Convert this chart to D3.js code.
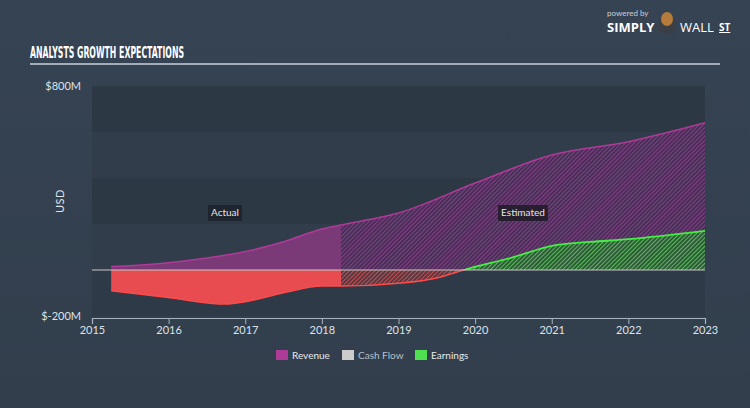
<!DOCTYPE html>
<html><head><meta charset="utf-8">
<script src="https://cdn.jsdelivr.net/npm/d3@7"></script>
<style>
html,body{margin:0;padding:0;background:#344150;}
svg{display:block;}
</style></head>
<body>
<script>
// ---- data ----
const yTicks = [-200, 800];
const yTickLabels = ["$-200M", "$800M"];
const xYears = [2015, 2016, 2017, 2018, 2019, 2020, 2021, 2022, 2023];
const actualEnd = 2018.25;

const revenueDates = [2015.25, 2016, 2016.5, 2017, 2017.5, 2018, 2018.25, 2019, 2020, 2021, 2022, 2023];
const revenue      = [15, 32, 52, 80, 123, 178, 196, 248, 378, 500, 558, 640];

const earningsDates = [2015.25, 2016, 2016.75, 2017, 2017.5, 2018, 2018.25, 2019, 2019.5, 2019.85, 2020.5, 2021, 2021.5, 2022, 2023];
const earnings      = [-90, -120, -148, -138, -99, -70, -70, -58, -35, 0, 56, 105, 122, 134, 170];

const cashFlowDates = [2015, 2023];
const cashFlow      = [0, 0];

const legendItems = ["Revenue", "Cash Flow", "Earnings"];
const legendColors = ["#b03a98", "#cccccc", "#4fe04f"];

// ---- drawing ----
const W = 750, H = 408;
const svg = d3.select("body").append("svg").attr("width", W).attr("height", H);

const defs = svg.append("defs");
const grad = defs.append("linearGradient").attr("id","bg").attr("x1","0").attr("y1","0").attr("x2","0").attr("y2","1");
grad.append("stop").attr("offset","0").attr("stop-color","#364353");
grad.append("stop").attr("offset","1").attr("stop-color","#323e4c");
svg.append("rect").attr("width",W).attr("height",H).attr("fill","url(#bg)");

function hatch(id, bg, fg) {
  const p = defs.append("pattern").attr("id", id).attr("patternUnits","userSpaceOnUse")
    .attr("width", 3).attr("height", 3).attr("patternTransform","rotate(45)");
  p.append("rect").attr("width",3).attr("height",3).attr("fill",bg);
  p.append("line").attr("x1",0).attr("y1",0).attr("x2",0).attr("y2",3).attr("stroke",fg).attr("stroke-width",2.2);
}
hatch("hRev", "#3f3252", "#8a3a88");
hatch("hRed", "#4a3a44", "#cf4a4c");
hatch("hGreen", "#33503e", "#52c052");

const x = d3.scaleLinear().domain([2015, 2023]).range([92, 705]);
const y = d3.scaleLinear().domain([-200, 800]).range([316, 86]);
const x0 = x(2015), x1 = x(2023);

// plot background
svg.append("rect").attr("x", x0).attr("y", y(800)).attr("width", x1-x0).attr("height", y(-200)-y(800)).attr("fill","#313d4b");
[[800,600],[400,200],[0,-200]].forEach(([a,b],i)=>{
  svg.append("rect").attr("x", x0).attr("y", y(a)).attr("width", x1-x0).attr("height", y(b)-y(a))
    .attr("fill", i===2 ? "#2e3a47" : "#2d3845");
});

// clips
const zeroY = y(0);
defs.append("clipPath").attr("id","cAct").append("rect").attr("x",0).attr("y",0).attr("width",x(actualEnd)).attr("height",H);
defs.append("clipPath").attr("id","cEst").append("rect").attr("x",x(actualEnd)).attr("y",0).attr("width",W).attr("height",H);
defs.append("clipPath").attr("id","cPos").append("rect").attr("x",0).attr("y",0).attr("width",W).attr("height",zeroY);
defs.append("clipPath").attr("id","cNeg").append("rect").attr("x",0).attr("y",zeroY).attr("width",W).attr("height",H);

const revData = revenueDates.map((d,i)=>[d, revenue[i]]);
const earnData = earningsDates.map((d,i)=>[d, earnings[i]]);

const area = d3.area().x(d=>x(d[0])).y0(zeroY).y1(d=>y(d[1])).curve(d3.curveMonotoneX);
const line = d3.line().x(d=>x(d[0])).y(d=>y(d[1])).curve(d3.curveMonotoneX);

// Actual
const gA = svg.append("g").attr("clip-path","url(#cAct)");
gA.append("path").attr("d", area(revData)).attr("fill","#7a3a78");
gA.append("path").attr("d", area(earnData)).attr("fill","#e84c50");
// Estimated
const gE = svg.append("g").attr("clip-path","url(#cEst)");
gE.append("path").attr("d", area(revData)).attr("fill","url(#hRev)");
gE.append("g").attr("clip-path","url(#cNeg)").append("path").attr("d", area(earnData)).attr("fill","url(#hRed)");
gE.append("g").attr("clip-path","url(#cPos)").append("path").attr("d", area(earnData)).attr("fill","url(#hGreen)");

// lines
svg.append("path").attr("d", line(revData)).attr("fill","none").attr("stroke","#b03a98").attr("stroke-width",1.5);
svg.append("g").attr("clip-path","url(#cNeg)").append("path").attr("d", line(earnData)).attr("fill","none").attr("stroke","#ff4a4a").attr("stroke-width",1.5);
svg.append("g").attr("clip-path","url(#cPos)").append("path").attr("d", line(earnData)).attr("fill","none").attr("stroke","#44ee44").attr("stroke-width",1.8);

// cash flow / zero line
const cfData = cashFlowDates.map((d,i)=>[d, cashFlow[i]]);
svg.append("path").attr("d", d3.line().x(d=>x(d[0])).y(d=>y(d[1]))(cfData)).attr("fill","none").attr("stroke","#c8c8c8").attr("stroke-width",1.2);

// x axis
const xAxis = d3.axisBottom(x).tickValues(xYears).tickFormat(d3.format("d")).tickSize(6).tickPadding(0);
const gx = svg.append("g").attr("transform",`translate(0,${y(-200)+2})`).call(xAxis);
gx.select(".domain").attr("stroke","#aab4c0").attr("stroke-width",1.2);
gx.selectAll(".tick line").attr("stroke","#aab4c0");
gx.selectAll(".tick text").attr("fill","#dde3ea").attr("font-size",11).attr("font-family","Lato, 'Open Sans', sans-serif").attr("dy","0.9em");

// y labels
const yAxis = d3.axisLeft(y).tickValues(yTicks).tickFormat((d,i)=>yTickLabels[i]).tickSize(0).tickPadding(0);
const gy = svg.append("g").attr("transform",`translate(81,0)`).call(yAxis);
gy.select(".domain").remove();
gy.selectAll(".tick text").attr("fill","#dde3ea").attr("font-size",11).attr("font-family","Lato, 'Open Sans', sans-serif");

svg.append("text").attr("transform","translate(64,201) rotate(-90)").attr("text-anchor","middle")
  .attr("fill","#dde3ea").attr("font-size",11).attr("font-family","Lato, 'Open Sans', sans-serif").attr("letter-spacing","0.5").text("USD");

// labels Actual / Estimated
function tag(cx, txt, bg) {
  const t = svg.append("text").attr("x", cx).attr("y", 216).attr("text-anchor","middle")
    .attr("fill","#e6e6e6").attr("font-size",10).attr("font-family","Lato, 'Open Sans', sans-serif").text(txt);
  const b = t.node().getBBox();
  svg.insert("rect", () => t.node()).attr("x", b.x-3).attr("y", 205).attr("width", b.width+6).attr("height", 16).attr("fill", bg);
}
tag(225, "Actual", "#1e252e");
tag(523, "Estimated", "#271e30");

// title
svg.append("text").attr("x",30).attr("y",58).attr("fill","#ffffff").attr("font-size",15).attr("font-weight","bold")
  .attr("font-family","'Liberation Sans Narrow', 'DejaVu Sans Condensed', sans-serif").attr("textLength",154).attr("lengthAdjust","spacingAndGlyphs")
  .text("ANALYSTS GROWTH EXPECTATIONS");
svg.append("line").attr("x1",30).attr("x2",720).attr("y1",64).attr("y2",64).attr("stroke","#c9d0d8").attr("stroke-width",1.5);

// logo
svg.append("text").attr("x",607).attr("y",16).attr("fill","#c9d0d8").attr("font-size",8).attr("font-family","Lato, sans-serif").text("powered by");
svg.append("text").attr("x",607).attr("y",32).attr("fill","#ffffff").attr("font-size",13).attr("font-weight","bold").attr("font-family","'Open Sans', sans-serif").text("SIMPLY");
svg.append("circle").attr("cx",667).attr("cy",25).attr("r",9).attr("fill","#3b3f45");
svg.append("ellipse").attr("cx",667).attr("cy",19).attr("rx",6).attr("ry",7).attr("fill","#b57b3a");
svg.append("text").attr("x",680).attr("y",32).attr("fill","#ffffff").attr("font-size",13).attr("font-family","'Open Sans', sans-serif").text("WALL");
svg.append("text").attr("x",719).attr("y",31).attr("fill","#ffffff").attr("font-size",10).attr("font-weight","bold").attr("font-family","'Open Sans', sans-serif").attr("text-decoration","underline").text("ST");

// legend
const lx = [276, 342, 415];
legendItems.forEach((name,i)=>{
  svg.append("rect").attr("x",lx[i]).attr("y",350).attr("width",12).attr("height",10).attr("fill",legendColors[i]);
  svg.append("text").attr("x",lx[i]+16).attr("y",359).attr("fill", i===1 ? "#b8c0c8" : "#e6e9ed").attr("font-size",10)
    .attr("font-family","Lato, 'Open Sans', sans-serif").text(name);
});
</script>
</body></html>
